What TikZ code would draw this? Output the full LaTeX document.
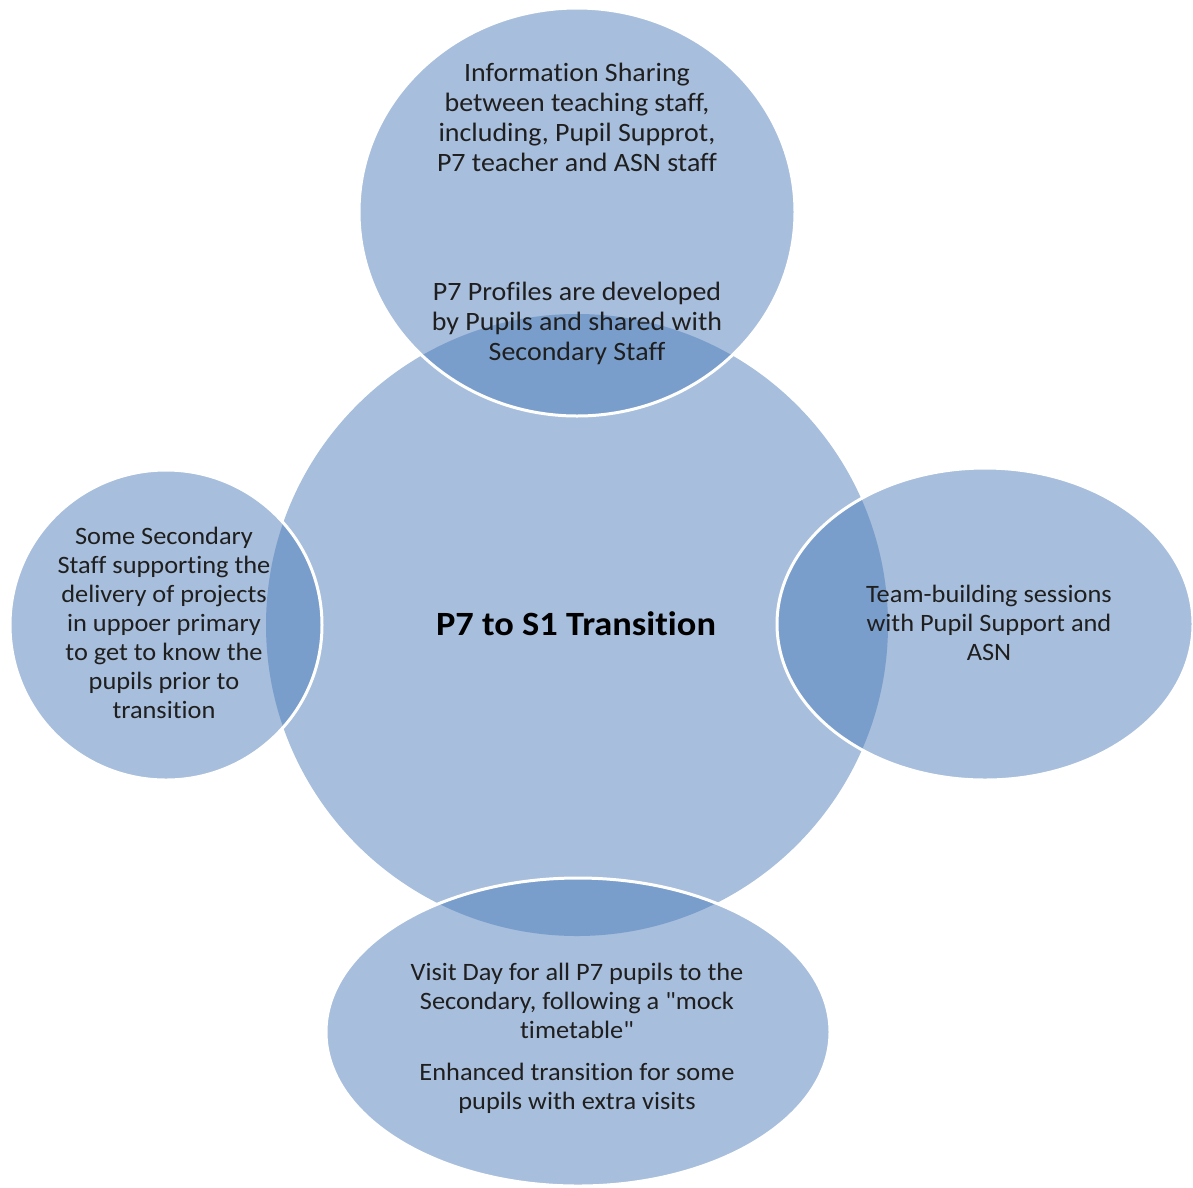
\documentclass[tikz,border=0pt]{standalone}
\usepackage{fontspec}
\setmainfont{Carlito}[Ligatures={TeXOff,CommonOff}]
\newfontfamily\satfont{Carlito}[Ligatures={TeXOff,CommonOff},FakeStretch=1.055]
\newfontfamily\hubfont{Carlito}[Ligatures={TeXOff,CommonOff},FakeStretch=1.07]
\definecolor{lightb}{HTML}{A7BEDC}
\definecolor{darkb}{HTML}{7A9ECB}
\tikzset{
  sat/.style={align=center, inner sep=0pt, text=black!88, font=\satfont\fontsize{25}{29}\selectfont},
  topsat/.style={align=center, inner sep=0pt, text=black!88, font=\satfont\fontsize{26.5}{30}\selectfont},
  hub/.style={align=center, inner sep=0pt, text=black, font=\hubfont\bfseries\fontsize{34}{40}\selectfont},
  rim/.style={draw=white, line width=3pt}
}
\begin{document}
\begin{tikzpicture}[x=1pt,y=-1pt]
\useasboundingbox (0,0) rectangle (1193,1187);
\coordinate (C) at (577,625);
\coordinate (T) at (577,212);
\coordinate (L) at (166,625);
\coordinate (R) at (985,624);
\coordinate (B) at (578,1032);
% base fills
\fill[lightb] (C) circle [radius=311];
\fill[lightb] (T) ellipse [x radius=218, y radius=204];
\fill[lightb] (L) ellipse [x radius=156, y radius=155];
\fill[lightb] (R) ellipse [x radius=208, y radius=156];
\fill[lightb] (B) ellipse [x radius=252, y radius=154];
% overlaps
\begin{scope}
  \clip (C) circle [radius=311];
  \fill[darkb] (T) ellipse [x radius=218, y radius=204];
  \fill[darkb] (L) ellipse [x radius=156, y radius=155];
  \fill[darkb] (R) ellipse [x radius=208, y radius=156];
  \fill[darkb] (B) ellipse [x radius=252, y radius=154];
\end{scope}
% white rims
\draw[rim] (T) ellipse [x radius=218, y radius=204];
\draw[rim] (L) ellipse [x radius=156, y radius=155];
\draw[rim] (R) ellipse [x radius=208, y radius=156];
\draw[rim] (B) ellipse [x radius=252, y radius=154];
% texts
\node[hub] (hubtext) at (576,624) {P7 to S1 Transition};
\node[topsat] (top1) at (577,117) {Information Sharing\\between teaching staff,\\including, Pupil Supprot,\\P7 teacher and ASN staff};
\node[topsat] (top2) at (577,323) {P7 Profiles are developed\\by Pupils and shared with\\Secondary Staff};
\node[sat] (left) at (164,623) {Some Secondary\\Staff supporting the\\delivery of projects\\in uppoer primary\\to get to know the\\pupils prior to\\transition};
\node[sat] (right) at (989,623) {Team-building sessions\\with Pupil Support and\\ASN};
\node[sat] (bot1) at (577,1001) {Visit Day for all P7 pupils to the\\Secondary, following a "mock\\timetable"};
\node[sat] (bot2) at (577,1088) {Enhanced transition for some\\pupils with extra visits};
\end{tikzpicture}
\end{document}
